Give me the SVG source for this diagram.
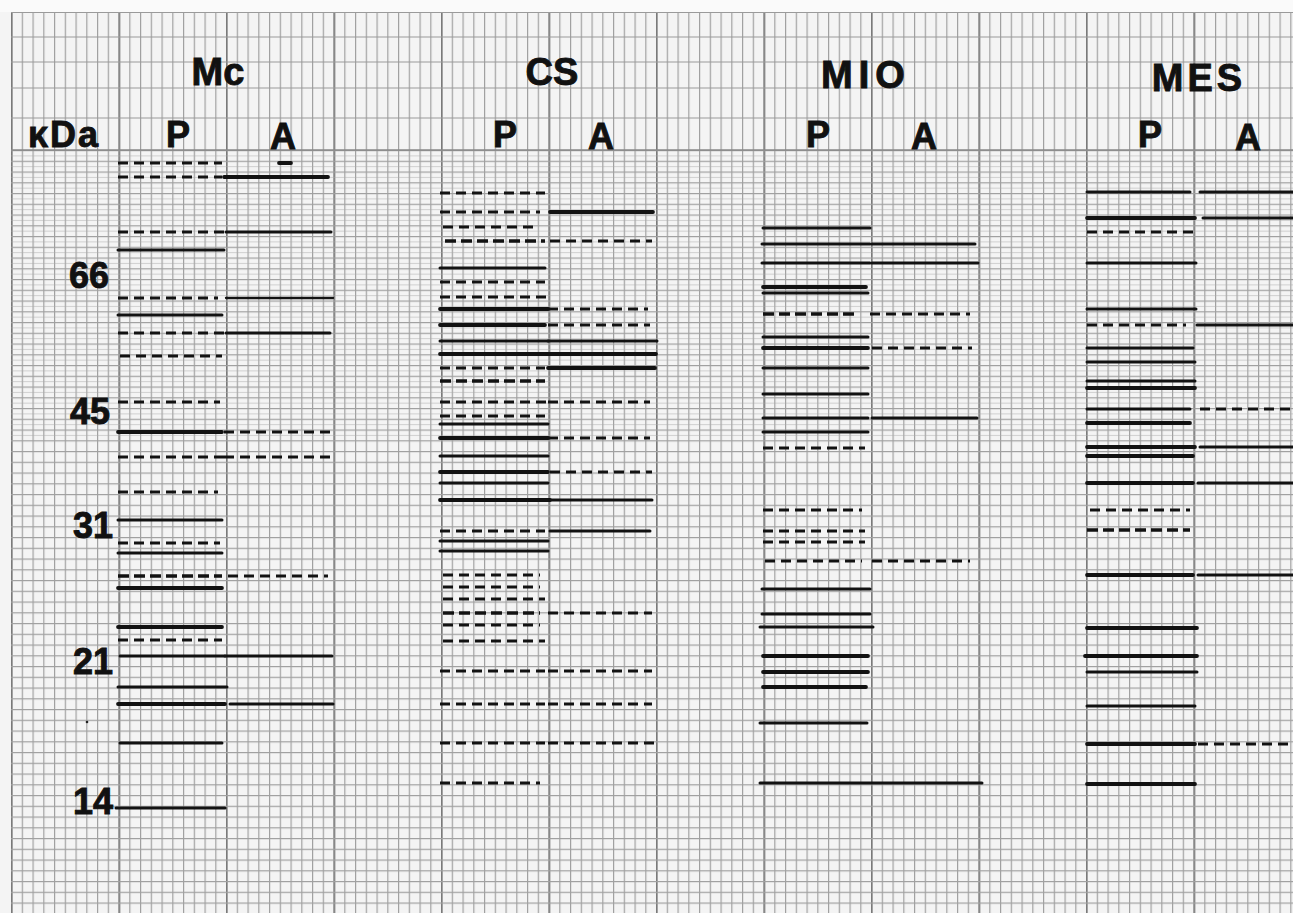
<svg xmlns="http://www.w3.org/2000/svg" width="1293" height="913" viewBox="0 0 1293 913">
<style>
.lbl{font-family:"Liberation Sans",Arial,sans-serif;font-weight:bold;fill:#111;stroke:#111;stroke-width:0.9;}
.hd{font-size:38px;text-anchor:middle;}
.pa{font-size:36px;text-anchor:middle;}
.mw{font-size:36px;text-anchor:end;}
.b line{stroke:#121212;stroke-linecap:round;}
.s{stroke-width:3;}
.t{stroke-width:3.8;}
.n{stroke-width:2.3;}
.d{stroke-width:3;stroke-dasharray:10 6;}
.dt{stroke-width:3.6;stroke-dasharray:11 5;}
.b line.d,.b line.dt{stroke-linecap:butt;}
.hg{stroke:#9a9a9a;stroke-width:1.2;}
</style>
<defs>
<pattern id="gv" x="11" y="0" width="10.75" height="913" patternUnits="userSpaceOnUse"><rect x="0" y="0" width="1.2" height="913" fill="#a0a0a0"/></pattern>
<pattern id="gm" x="11" y="0" width="107.5" height="913" patternUnits="userSpaceOnUse"><rect x="-0.2" y="0" width="1.8" height="913" fill="#7a7a7a"/></pattern>
<pattern id="gh" x="0" y="150" width="1293" height="10.75" patternUnits="userSpaceOnUse"><rect x="0" y="0" width="1293" height="1.2" fill="#a0a0a0"/></pattern>
<pattern id="gh2" x="0" y="155.4" width="1293" height="10.75" patternUnits="userSpaceOnUse"><rect x="0" y="0" width="1293" height="1" fill="#aaaaaa"/></pattern>
</defs>
<rect width="1293" height="913" fill="#f4f4f4"/>
<rect x="0" y="0" width="1293" height="12" fill="#fafafa"/>
<g id="grid">
<rect x="11" y="12" width="1282" height="901" fill="url(#gv)"/>
<rect x="11" y="12" width="1282" height="901" fill="url(#gm)"/>
<rect x="11" y="150" width="1282" height="763" fill="url(#gh)"/>
<rect x="11" y="150" width="1282" height="290" fill="url(#gh2)" opacity="0.5"/>
<line class="hg" x1="11" y1="12.5" x2="1293" y2="12.5"/>
<line class="hg" x1="11" y1="37" x2="1293" y2="37"/>
<line class="hg" x1="11" y1="62" x2="1293" y2="62"/>
<line class="hg" x1="11" y1="88" x2="1293" y2="88"/>
<line class="hg" x1="11" y1="118" x2="1293" y2="118"/>
<line x1="11" y1="150" x2="1293" y2="150" stroke="#888" stroke-width="1.6"/>
</g>
<g id="labels" class="lbl">
<text class="hd" x="218" y="85">Mc</text>
<text class="hd" x="552" y="85">CS</text>
<text class="hd" x="866" y="88" letter-spacing="6">MIO</text>
<text class="hd" x="1199" y="91" letter-spacing="4">MES</text>
<text class="pa" x="64" y="147" letter-spacing="2" font-size="37">κDa</text>
<text class="pa" x="178" y="147">P</text>
<text class="pa" x="283" y="149">A</text>
<text class="pa" x="505" y="147">P</text>
<text class="pa" x="601" y="149">A</text>
<text class="pa" x="818" y="147">P</text>
<text class="pa" x="924" y="149">A</text>
<text class="pa" x="1150" y="147">P</text>
<text class="pa" x="1248" y="150">A</text>
<text class="mw" x="109" y="288">66</text>
<text class="mw" x="110" y="424">45</text>
<text class="mw" x="113" y="538">31</text>
<text class="mw" x="113" y="674">21</text>
<text class="mw" x="113" y="814">14</text>
<circle cx="87" cy="722" r="1.3" fill="#222" stroke="none"/>
</g>
<g id="lane-Mc" class="b">
<line class="d" x1="118" y1="163" x2="222" y2="163"/>
<line class="d" x1="118" y1="177" x2="222" y2="177"/>
<line class="d" x1="118" y1="232" x2="225" y2="232"/>
<line class="s" x1="118" y1="250" x2="224" y2="250"/>
<line class="d" x1="118" y1="298" x2="218" y2="298"/>
<line class="s" x1="118" y1="315" x2="222" y2="315"/>
<line class="d" x1="118" y1="333" x2="224" y2="333"/>
<line class="d" x1="120" y1="356" x2="222" y2="356"/>
<line class="d" x1="118" y1="402" x2="220" y2="402"/>
<line class="t" x1="118" y1="432" x2="222" y2="432"/>
<line class="d" x1="118" y1="457" x2="224" y2="457"/>
<line class="d" x1="118" y1="492" x2="218" y2="492"/>
<line class="s" x1="118" y1="520" x2="222" y2="520"/>
<line class="d" x1="118" y1="543" x2="220" y2="543"/>
<line class="s" x1="118" y1="553" x2="222" y2="553"/>
<line class="dt" x1="118" y1="576" x2="222" y2="576"/>
<line class="t" x1="118" y1="588" x2="222" y2="588"/>
<line class="t" x1="118" y1="627" x2="222" y2="627"/>
<line class="d" x1="118" y1="640" x2="222" y2="640"/>
<line class="s" x1="120" y1="656" x2="225" y2="656"/>
<line class="s" x1="118" y1="687" x2="227" y2="687"/>
<line class="t" x1="118" y1="704" x2="225" y2="704"/>
<line class="s" x1="120" y1="743" x2="222" y2="743"/>
<line class="s" x1="116" y1="808" x2="225" y2="808"/>
<line class="t" x1="279" y1="163" x2="291" y2="163"/>
<line class="t" x1="224" y1="177" x2="328" y2="177"/>
<line class="s" x1="226" y1="232" x2="331" y2="232"/>
<line class="n" x1="226" y1="298" x2="333" y2="298"/>
<line class="s" x1="226" y1="333" x2="330" y2="333"/>
<line class="d" x1="224" y1="432" x2="330" y2="432"/>
<line class="d" x1="224" y1="457" x2="330" y2="457"/>
<line class="d" x1="228" y1="576" x2="328" y2="576"/>
<line class="s" x1="225" y1="656" x2="332" y2="656"/>
<line class="s" x1="230" y1="704" x2="333" y2="704"/>
</g>
<g id="lane-CS" class="b">
<line class="d" x1="440" y1="193" x2="545" y2="193"/>
<line class="d" x1="440" y1="212" x2="540" y2="212"/>
<line class="d" x1="443" y1="227" x2="538" y2="227"/>
<line class="dt" x1="445" y1="241" x2="545" y2="241"/>
<line class="s" x1="440" y1="268" x2="545" y2="268"/>
<line class="d" x1="440" y1="282" x2="545" y2="282"/>
<line class="d" x1="440" y1="297" x2="548" y2="297"/>
<line class="t" x1="440" y1="309" x2="548" y2="309"/>
<line class="t" x1="440" y1="325" x2="545" y2="325"/>
<line class="s" x1="440" y1="341" x2="548" y2="341"/>
<line class="t" x1="440" y1="354" x2="548" y2="354"/>
<line class="d" x1="440" y1="368" x2="545" y2="368"/>
<line class="dt" x1="440" y1="381" x2="545" y2="381"/>
<line class="d" x1="440" y1="402" x2="548" y2="402"/>
<line class="d" x1="440" y1="416" x2="545" y2="416"/>
<line class="s" x1="440" y1="424" x2="548" y2="424"/>
<line class="t" x1="440" y1="438" x2="548" y2="438"/>
<line class="s" x1="440" y1="456" x2="548" y2="456"/>
<line class="t" x1="440" y1="472" x2="548" y2="472"/>
<line class="s" x1="440" y1="483" x2="548" y2="483"/>
<line class="t" x1="440" y1="500" x2="550" y2="500"/>
<line class="d" x1="440" y1="531" x2="545" y2="531"/>
<line class="s" x1="440" y1="541" x2="548" y2="541"/>
<line class="s" x1="440" y1="551" x2="548" y2="551"/>
<line class="d" x1="443" y1="575" x2="540" y2="575"/>
<line class="d" x1="443" y1="587" x2="540" y2="587"/>
<line class="d" x1="443" y1="599" x2="545" y2="599"/>
<line class="dt" x1="443" y1="613" x2="540" y2="613"/>
<line class="d" x1="443" y1="625" x2="540" y2="625"/>
<line class="d" x1="443" y1="641" x2="545" y2="641"/>
<line class="d" x1="440" y1="671" x2="545" y2="671"/>
<line class="d" x1="440" y1="704" x2="545" y2="704"/>
<line class="d" x1="440" y1="743" x2="545" y2="743"/>
<line class="d" x1="440" y1="783" x2="540" y2="783"/>
<line class="t" x1="550" y1="212" x2="653" y2="212"/>
<line class="d" x1="550" y1="241" x2="652" y2="241"/>
<line class="d" x1="548" y1="309" x2="648" y2="309"/>
<line class="d" x1="548" y1="325" x2="650" y2="325"/>
<line class="s" x1="548" y1="341" x2="657" y2="341"/>
<line class="t" x1="548" y1="354" x2="656" y2="354"/>
<line class="t" x1="548" y1="368" x2="655" y2="368"/>
<line class="d" x1="548" y1="402" x2="650" y2="402"/>
<line class="d" x1="548" y1="438" x2="650" y2="438"/>
<line class="d" x1="550" y1="472" x2="652" y2="472"/>
<line class="s" x1="550" y1="500" x2="652" y2="500"/>
<line class="s" x1="550" y1="531" x2="650" y2="531"/>
<line class="d" x1="548" y1="613" x2="652" y2="613"/>
<line class="d" x1="548" y1="671" x2="652" y2="671"/>
<line class="d" x1="548" y1="704" x2="652" y2="704"/>
<line class="d" x1="548" y1="743" x2="655" y2="743"/>
</g>
<g id="lane-MIO" class="b">
<line class="s" x1="763" y1="228" x2="870" y2="228"/>
<line class="s" x1="762" y1="244" x2="870" y2="244"/>
<line class="s" x1="762" y1="263" x2="870" y2="263"/>
<line class="t" x1="763" y1="287" x2="866" y2="287"/>
<line class="s" x1="763" y1="293" x2="868" y2="293"/>
<line class="dt" x1="763" y1="314" x2="858" y2="314"/>
<line class="s" x1="763" y1="337" x2="868" y2="337"/>
<line class="t" x1="763" y1="348" x2="868" y2="348"/>
<line class="s" x1="763" y1="368" x2="868" y2="368"/>
<line class="s" x1="763" y1="394" x2="868" y2="394"/>
<line class="s" x1="763" y1="418" x2="868" y2="418"/>
<line class="s" x1="763" y1="432" x2="868" y2="432"/>
<line class="d" x1="763" y1="448" x2="865" y2="448"/>
<line class="d" x1="763" y1="510" x2="862" y2="510"/>
<line class="d" x1="763" y1="531" x2="865" y2="531"/>
<line class="d" x1="763" y1="542" x2="865" y2="542"/>
<line class="d" x1="765" y1="561" x2="862" y2="561"/>
<line class="s" x1="762" y1="589" x2="870" y2="589"/>
<line class="s" x1="762" y1="614" x2="870" y2="614"/>
<line class="s" x1="760" y1="627" x2="873" y2="627"/>
<line class="t" x1="763" y1="656" x2="868" y2="656"/>
<line class="t" x1="763" y1="672" x2="868" y2="672"/>
<line class="t" x1="763" y1="687" x2="866" y2="687"/>
<line class="s" x1="760" y1="723" x2="867" y2="723"/>
<line class="s" x1="760" y1="783" x2="982" y2="783"/>
<line class="s" x1="872" y1="244" x2="975" y2="244"/>
<line class="s" x1="872" y1="263" x2="978" y2="263"/>
<line class="d" x1="870" y1="314" x2="970" y2="314"/>
<line class="d" x1="872" y1="348" x2="972" y2="348"/>
<line class="s" x1="872" y1="418" x2="977" y2="418"/>
<line class="d" x1="872" y1="561" x2="970" y2="561"/>
</g>
<g id="lane-MES" class="b">
<line class="s" x1="1087" y1="192" x2="1190" y2="192"/>
<line class="t" x1="1087" y1="218" x2="1195" y2="218"/>
<line class="d" x1="1087" y1="232" x2="1195" y2="232"/>
<line class="s" x1="1087" y1="263" x2="1196" y2="263"/>
<line class="s" x1="1087" y1="309" x2="1196" y2="309"/>
<line class="d" x1="1087" y1="325" x2="1186" y2="325"/>
<line class="s" x1="1087" y1="348" x2="1193" y2="348"/>
<line class="s" x1="1087" y1="362" x2="1195" y2="362"/>
<line class="s" x1="1087" y1="381" x2="1195" y2="381"/>
<line class="t" x1="1087" y1="388" x2="1195" y2="388"/>
<line class="s" x1="1087" y1="409" x2="1190" y2="409"/>
<line class="t" x1="1087" y1="423" x2="1190" y2="423"/>
<line class="t" x1="1087" y1="447" x2="1195" y2="447"/>
<line class="t" x1="1087" y1="456" x2="1193" y2="456"/>
<line class="t" x1="1087" y1="483" x2="1193" y2="483"/>
<line class="d" x1="1090" y1="510" x2="1190" y2="510"/>
<line class="dt" x1="1087" y1="530" x2="1190" y2="530"/>
<line class="t" x1="1087" y1="575" x2="1193" y2="575"/>
<line class="t" x1="1087" y1="628" x2="1197" y2="628"/>
<line class="t" x1="1085" y1="656" x2="1197" y2="656"/>
<line class="s" x1="1087" y1="672" x2="1197" y2="672"/>
<line class="s" x1="1087" y1="706" x2="1195" y2="706"/>
<line class="t" x1="1087" y1="744" x2="1195" y2="744"/>
<line class="t" x1="1087" y1="784" x2="1195" y2="784"/>
<line class="s" x1="1200" y1="192" x2="1293" y2="192"/>
<line class="s" x1="1203" y1="218" x2="1293" y2="218"/>
<line class="s" x1="1197" y1="325" x2="1293" y2="325"/>
<line class="d" x1="1200" y1="409" x2="1293" y2="409"/>
<line class="s" x1="1200" y1="447" x2="1293" y2="447"/>
<line class="s" x1="1198" y1="483" x2="1293" y2="483"/>
<line class="s" x1="1198" y1="575" x2="1293" y2="575"/>
<line class="d" x1="1198" y1="744" x2="1293" y2="744"/>
</g>
</svg>
